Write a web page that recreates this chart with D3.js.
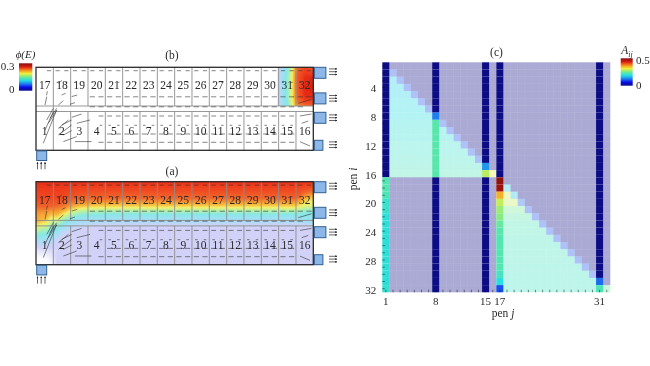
<!DOCTYPE html>
<html><head><meta charset="utf-8">
<script src="https://cdn.jsdelivr.net/npm/d3@7"></script>
<style>html,body{margin:0;background:#fff}svg{display:block;filter:blur(0.4px)}text{font-family:"Liberation Serif",serif;fill:#2a2a2a}</style>
</head><body><div id="chart"></div>
<script>
// ---------- data ----------
const penCount = 16;
const upperPens = d3.range(17, 33);
const lowerPens = d3.range(1, 17);
const jetStops = ["#0c0c84","#0a0ae8","#1f7ff0","#25dde2","#72ea92","#f0f03c","#f8861c","#d81a12","#801010"];
const fieldStopValues = [0, .03, .06, .10, .14, .17, .20, .24, .28, .30];
const fieldStopColors = ["#ffffff","#d2d2f8","#addcf6","#86e8e8","#b8f0a4","#f2f06c","#f8b438","#f2682c","#ee3a1c","#d81c0e"];

// panel (a): phi, estimated; one array per x node, sampled at phiAOffsets
const phiAPens = [0,.3,.6,.9,1.2,1.6,2,2.5,3,3.5,4,8,14.5,15,15.5,16];
const phiAOffsets = [0,8,16,20,24,26,28,30,33,36,40,43,46,52,60,68,76,83];
const phiAColumns = [
 [.29,.28,.27,.26,.25,.24,.23,.225,.215,.21,.20,.185,.165,.12,.06,.02,.005,0],
 [.29,.28,.27,.26,.25,.24,.23,.22,.21,.205,.19,.17,.15,.11,.06,.025,.005,0],
 [.29,.28,.27,.26,.25,.24,.23,.22,.21,.20,.18,.165,.145,.105,.06,.025,.008,0],
 [.29,.28,.27,.26,.25,.235,.225,.21,.195,.17,.15,.13,.11,.08,.05,.028,.015,.008],
 [.29,.28,.27,.26,.245,.235,.225,.215,.20,.18,.15,.13,.11,.07,.035,.03,.03,.03],
 [.29,.28,.265,.25,.235,.22,.21,.195,.17,.145,.115,.09,.07,.04,.03,.03,.03,.03],
 [.29,.275,.26,.24,.215,.20,.185,.165,.14,.115,.085,.065,.05,.03,.03,.03,.03,.03],
 [.29,.27,.25,.23,.20,.18,.16,.14,.115,.09,.07,.05,.035,.03,.03,.03,.03,.03],
 [.29,.27,.245,.225,.195,.175,.155,.135,.105,.085,.065,.045,.03,.03,.03,.03,.03,.03],
 [.29,.27,.245,.22,.19,.172,.152,.132,.102,.082,.062,.042,.03,.03,.03,.03,.03,.03],
 [.29,.27,.245,.22,.19,.17,.15,.13,.10,.08,.06,.04,.03,.03,.03,.03,.03,.03],
 [.29,.27,.245,.22,.19,.17,.15,.13,.10,.08,.06,.04,.03,.03,.03,.03,.03,.03],
 [.29,.27,.245,.22,.19,.17,.15,.13,.10,.08,.06,.04,.03,.03,.03,.03,.03,.03],
 [.29,.27,.25,.22,.19,.17,.15,.13,.10,.08,.06,.04,.03,.03,.03,.03,.03,.03],
 [.29,.26,.21,.185,.165,.15,.13,.115,.10,.085,.07,.04,.03,.03,.03,.03,.03,.03],
 [.29,.25,.19,.17,.16,.145,.125,.11,.10,.09,.08,.05,.03,.03,.03,.03,.03,.03]
];
// panel (b): phi in the upper pens only
const phiBPens = [13.9,14.02,14.25,14.54,14.66,14.77,14.95,15.12,15.52,15.98];
const phiBOffsets = [0,10,20,30,36,38.7];
const phiBColumns = [
 [0,0,0,0,0,0],
 [.04,.04,.04,.04,.04,.04],
 [.07,.08,.08,.08,.08,.08],
 [.11,.12,.12,.12,.11,.11],
 [.14,.15,.15,.15,.14,.14],
 [.16,.17,.17,.17,.165,.16],
 [.21,.22,.22,.215,.20,.19],
 [.245,.26,.26,.255,.235,.22],
 [.27,.29,.295,.29,.26,.235],
 [.25,.295,.30,.29,.265,.24]
];

// velocity arrows, shared by both panels
const dashRowOffsets = [3.4,15,29.5,39.5,48.7,58,66.7,75];
const dashRowLengths = [.24,.12,.3,.3,.28,.15,.3,.3];
const dashRowStarts = [.5,1,3,3,3.5,3.5,4,3.5];
const dashRowEnds = [16,16,16,15.5,15,15,15,15];
const fanArrows = [
 [.42,76,1.19,42.7],[.52,62.7,1,44.3],[.62,52.7,1,41],[.81,51,1.19,41],[.71,56,1.19,43.3],
 [1.29,67.7,2.06,57.7],[1.58,67.7,2.06,63.3],[1.58,74.3,2.35,69.3],[1.29,61,1.87,52.7],[1.48,57.7,2.06,52.7],
 [2.06,50,2.63,46.7],[2.35,56,3.12,52.7],[2.25,74.3,3.21,74.3],[1.96,37,2.25,35.3],[1.29,37.7,1.58,33.3],
 [2.06,29.3,2.38,27.7],[1.48,27.7,1.71,26],[.52,37.7,.62,29.3],[.6,28,.66,24],[1.3,16,1.5,13],
 [15.23,48.7,15.9,46.7],[15.33,56,15.71,53.7],[15.23,74.4,15.81,78.7],[15.13,36,15.9,32]
];

// matrix A_ij
const matrixSize = 32;
const solidColumns = [1,8,15,17,31];
const col1Values = [0,0,0,0,0,0,0,0,0,0,0,0,0,0,0,0,.225,.225,.22,.205,.205,.195,.195,.195,.195,.195,.195,.195,.195,.195,.195,.2];
const col8Values = [0,0,0,0,0,0,0,.125,.23,.23,.23,.23,.23,.23,.23,.23,0,0,0,0,0,0,0,0,0,0,0,0,0,0,0,0];
const col15Values = [0,0,0,0,0,0,0,0,0,0,0,0,0,0,.14,.285,0,0,0,0,0,0,0,0,0,0,0,0,0,0,0,0];
const col17Values = [0,0,0,0,0,0,0,0,0,0,0,0,0,0,0,0,.49,.48,.35,.29,.27,.26,.24,.23,.225,.225,.225,.225,.225,.215,.19,.10];
const col31Values = [0,0,0,0,0,0,0,0,0,0,0,0,0,0,0,0,0,0,0,0,0,0,0,0,0,0,0,0,0,0,.115,.22];
const triangleFill = [0,0,.18,.18,.18,.185,.185,.19,.195,.2,.2,.205,.205,.21,.215,.22,0,0,.3,.29,.25,.23,.22,.22,.215,.215,.215,.215,.21,.21,.21,.21];
const diagonalValues = [0,.1,.1,.1,.1,.1,.1,.1,.1,.1,.1,.1,.1,.1,.11,.31,0,.18,.17,.11,.1,.1,.1,.1,.1,.1,.1,.1,.1,.1,.13,.24];
const rowTicks = [4,8,12,16,20,24,28,32];
const colTicks = [1,8,15,17,31];

// ---------- layout ----------
const W = 650, H = 366;
const svg = d3.select("#chart").append("svg").attr("width", W).attr("height", H);
const jet = d3.piecewise(d3.interpolateRgb, jetStops);
const fieldColor = d3.scaleLinear().domain(fieldStopValues).range(fieldStopColors);
const defs = svg.append("defs");

const jetGrad = defs.append("linearGradient").attr("id", "jetV").attr("x1",0).attr("x2",0).attr("y1",1).attr("y2",0);
d3.range(0,1.001,.125).forEach(t => jetGrad.append("stop").attr("offset", t).attr("stop-color", jet(t)));
const headId = "arrowHead";
defs.append("marker").attr("id",headId).attr("viewBox","0 0 6 6").attr("refX",5).attr("refY",3)
  .attr("markerWidth",3).attr("markerHeight",3).attr("orient","auto")
  .append("path").attr("d","M0,0L6,3L0,6Z").attr("fill","#222");

// ---------- flow panels ----------
const thresholds = d3.range(.002, .302, .004);
function drawField(g, columns, pens, offsets, x, y) {
  const rows = d3.transpose(columns);
  const nx = pens.length, ny = offsets.length;
  const gx = d3.scaleLinear().domain(pens.map((_, i) => i + .5)).range(pens.map(p => x(p)));
  const gy = d3.scaleLinear().domain(offsets.map((_, i) => i + .5)).range(offsets.map(o => y(o)));
  const path = d3.geoPath(d3.geoTransform({ point(a, b) { this.stream.point(gx(a), gy(b)); } }));
  const cs = d3.contours().size([nx, ny]).smooth(true).thresholds(thresholds)(rows.flat());
  g.selectAll("path.iso").data(cs).join("path").attr("class","iso")
    .attr("d", path).attr("fill", d => fieldColor(d.value));
}
function flowPanel(id, top, title, titleY, fieldDraw) {
  const x = d3.scaleLinear().domain([0, penCount]).range([36, 313.3]);
  const y = d3.scaleLinear().domain([0, 83]).range([top, top + 83]);
  const g = svg.append("g");
  defs.append("clipPath").attr("id", "clip" + id).append("rect")
    .attr("x", x(0)).attr("y", y(0)).attr("width", x(16)-x(0)).attr("height", 83);
  const field = g.append("g").attr("clip-path", `url(#clip${id})`);
  fieldDraw(field, x, y);

  const lines = g.append("g").attr("stroke", "#8c8c8c").attr("stroke-width", .9);
  d3.range(1, penCount).forEach(k => {
    lines.append("line").attr("x1", x(k)).attr("x2", x(k)).attr("y1", y(0)).attr("y2", y(k === 1 ? 83 : 38.7));
    if (k !== 1) lines.append("line").attr("x1", x(k)).attr("x2", x(k)).attr("y1", y(44.2)).attr("y2", y(83));
  });
  [38.7, 44.2].forEach(o => lines.append("line").attr("x1", x(0)).attr("x2", x(16)).attr("y1", y(o)).attr("y2", y(o)));

  g.append("g").selectAll("text").data(upperPens).join("text")
    .attr("x", (d,i) => x(i + .5)).attr("y", y(22)).attr("text-anchor","middle").attr("font-size",11.5).text(d => d);
  g.append("g").selectAll("text").data(lowerPens).join("text")
    .attr("x", (d,i) => x(i + .5)).attr("y", y(67.5)).attr("text-anchor","middle").attr("font-size",11.5).text(d => d);

  const arrows = g.append("g").attr("stroke","#333").attr("stroke-width",.6);
  dashRowOffsets.forEach((o, r) => {
    d3.range(dashRowStarts[r] + .25, dashRowEnds[r], .5).forEach(p => {
      arrows.append("line").attr("x1", x(p - dashRowLengths[r]/2)).attr("x2", x(p + dashRowLengths[r]/2))
        .attr("y1", y(o)).attr("y2", y(o));
    });
  });
  arrows.selectAll("line.fan").data(fanArrows).join("line").attr("class","fan")
    .attr("x1", d => x(d[0])).attr("y1", d => y(d[1])).attr("x2", d => x(d[2])).attr("y2", d => y(d[3]));

  g.append("rect").attr("x", x(0)).attr("y", y(0)).attr("width", x(16)-x(0)).attr("height", 83)
    .attr("fill","none").attr("stroke","#2b2b2b").attr("stroke-width",1.3);

  // inlet and outlets
  const boxFill = "#8db7e8", boxStroke = "#33618f";
  g.append("rect").attr("x", 36.7).attr("y", y(83.6)).attr("width", 10).attr("height", 9.6)
    .attr("fill", boxFill).attr("stroke", boxStroke);
  const outlets = [[0,11,11.5],[25.6,11,11.5],[45,11,11.5],[73,10,8.5]];
  outlets.forEach(([o, h, w]) => {
    g.append("rect").attr("x", 314.4).attr("y", y(o)).attr("width", w).attr("height", h)
      .attr("fill", boxFill).attr("stroke", boxStroke);
  });
  [4.4, 31, 50.4, 77.4].forEach(o => {
    [-2.8, 0, 2.8].forEach(dy => {
      g.append("line").attr("x1", 329).attr("x2", 337).attr("y1", y(o)+dy).attr("y2", y(o)+dy)
        .attr("stroke","#222").attr("stroke-width",.7).attr("marker-end",`url(#${headId})`);
    });
  });
  [37.5, 41.2, 45].forEach(px => {
    g.append("line").attr("x1", px).attr("x2", px).attr("y1", y(83)+19).attr("y2", y(83)+12)
      .attr("stroke","#222").attr("stroke-width",.7).attr("marker-end",`url(#${headId})`);
  });

  svg.append("text").attr("x", 172).attr("y", titleY).attr("text-anchor","middle").attr("font-size",11.5).text(title);
}
flowPanel("b", 67.3, "(b)", 58.5, (f, x, y) => {
  f.append("g").call(s => drawField(s, phiBColumns, phiBPens, phiBOffsets, x, y));
  f.append("rect").attr("x", x(14)-6).attr("y", y(38.7)).attr("width", 50).attr("height", 50).attr("fill","#fff");
});
flowPanel("a", 181.7, "(a)", 175, (f, x, y) => {
  drawField(f, phiAColumns, phiAPens, phiAOffsets, x, y);
});

// colorbar for phi
svg.append("rect").attr("x",19).attr("y",63.3).attr("width",13.3).attr("height",27.4).attr("fill","url(#jetV)");
svg.append("text").attr("x",25.5).attr("y",58).attr("text-anchor","middle").attr("font-size",11).attr("font-style","italic").text("ϕ(E)");
svg.append("text").attr("x",14.5).attr("y",69.5).attr("text-anchor","end").attr("font-size",11).text("0.3");
svg.append("text").attr("x",14.5).attr("y",93).attr("text-anchor","end").attr("font-size",11).text("0");

// ---------- matrix ----------
const indices = d3.range(1, matrixSize + 1);
const mx = d3.scaleBand().domain(indices).range([382.3, 610.3]);
const my = d3.scaleBand().domain(indices).range([62.3, 292.3]);
const matrixColor = d3.scaleLinear().domain([0, .5]).range([0, 1]);
const solid = { 1: col1Values, 8: col8Values, 15: col15Values, 17: col17Values, 31: col31Values };
function cellValue(i, j) {
  if (solid[j]) return solid[j][i - 1];
  const sameBlock = (i <= 16 && j <= 16) || (i > 16 && j > 16);
  if (!sameBlock || j > i) return 0;
  return j === i ? diagonalValues[i - 1] : triangleFill[i - 1];
}
const cells = indices.flatMap(i => indices.map(j => ({ i, j, v: cellValue(i, j) })));
svg.append("g").selectAll("rect").data(cells).join("rect")
  .attr("x", d => mx(d.j)).attr("y", d => my(d.i))
  .attr("width", mx.bandwidth()).attr("height", my.bandwidth())
  .attr("fill", d => jet(matrixColor(d.v)))
  .attr("fill-opacity", d => solidColumns.includes(d.j) ? 1 : .35);

const yAxis = d3.axisLeft(my).tickValues(indices).tickSize(-2.5).tickPadding(6)
  .tickFormat(d => rowTicks.includes(d) ? d : "");
const xAxis = d3.axisBottom(mx).tickValues(indices).tickSize(-2.5).tickPadding(6)
  .tickFormat(d => colTicks.includes(d) ? d : "");
const ya = svg.append("g").attr("transform","translate(382.3,0)").call(yAxis);
const xa = svg.append("g").attr("transform","translate(0,292.3)").call(xAxis);
[ya, xa].forEach(a => {
  a.select(".domain").remove();
  a.selectAll("text").attr("font-size", 11).attr("font-family", '"Liberation Serif",serif');
  a.selectAll("line").attr("stroke","#111").attr("stroke-width",.5);
});
ya.selectAll("text").attr("dy","0.45em");
xa.selectAll("text").attr("dy","0.65em");

svg.append("text").attr("x",496.5).attr("y",56).attr("text-anchor","middle").attr("font-size",11.5).text("(c)");
const xl = svg.append("text").attr("x",503).attr("y",317).attr("text-anchor","middle").attr("font-size",11.5);
xl.append("tspan").text("pen ");
xl.append("tspan").attr("font-style","italic").text("j");
const yl = svg.append("text").attr("transform","translate(357,179) rotate(-90)").attr("text-anchor","middle").attr("font-size",11.5);
yl.append("tspan").text("pen ");
yl.append("tspan").attr("font-style","italic").text("i");

// colorbar for A_ij
svg.append("rect").attr("x",620.7).attr("y",58.3).attr("width",12).attr("height",27.4).attr("fill","url(#jetV)");
const al = svg.append("text").attr("x",627).attr("y",54).attr("text-anchor","middle").attr("font-size",11.5).attr("font-style","italic");
al.append("tspan").text("A");
al.append("tspan").attr("dy",2.5).attr("font-size",8).text("ij");
svg.append("text").attr("x",636).attr("y",64).attr("font-size",11).text("0.5");
svg.append("text").attr("x",636).attr("y",89).attr("font-size",11).text("0");
</script></body></html>
